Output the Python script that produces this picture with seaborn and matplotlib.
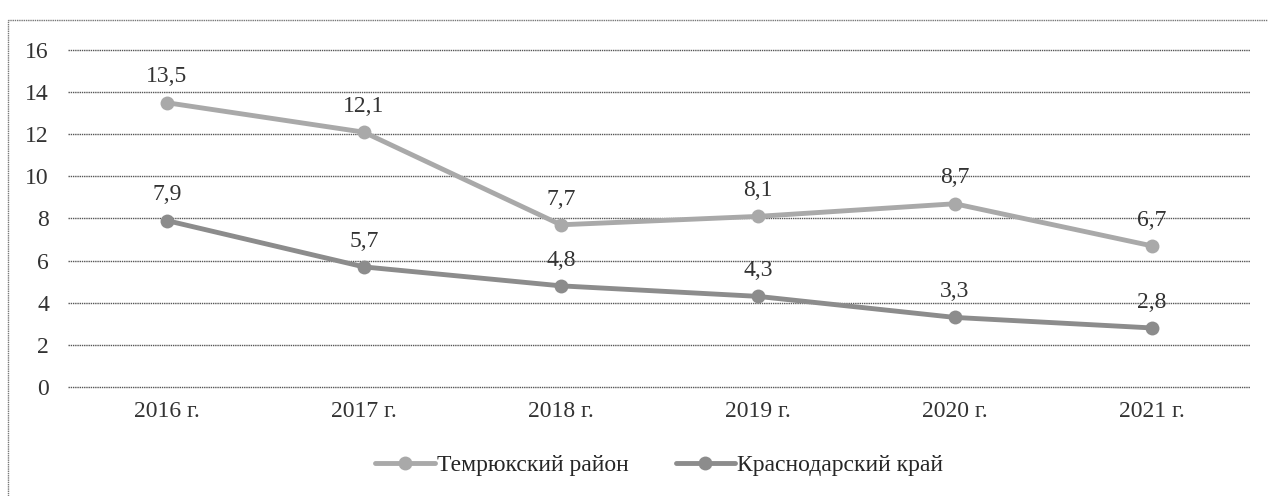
import matplotlib
matplotlib.use("Agg")
import matplotlib.pyplot as plt
import seaborn as sns
import pandas as pd
from matplotlib.patches import Rectangle

years = ["2016 г.", "2017 г.", "2018 г.", "2019 г.", "2020 г.", "2021 г."]
temryuk = [13.5, 12.1, 7.7, 8.1, 8.7, 6.7]
krasnodar = [7.9, 5.7, 4.8, 4.3, 3.3, 2.8]
series_names = ["Темрюкский район", "Краснодарский край"]
yticks = [0, 2, 4, 6, 8, 10, 12, 14, 16]

df = pd.DataFrame({
    "year": years * 2,
    "x": list(range(len(years))) * 2,
    "value": temryuk + krasnodar,
    "series": [series_names[0]] * len(years) + [series_names[1]] * len(years),
})

sns.set_theme(style="white")
plt.rcParams['font.family'] = ['Liberation Serif', 'DejaVu Serif']

fig = plt.figure(figsize=(12.68, 4.96), dpi=100)
ax = fig.add_axes([0.054, 0.22, 0.932, 0.679])

palette = {series_names[0]: "#a9a9a9", series_names[1]: "#8c8c8c"}
sns.lineplot(data=df, x="x", y="value", hue="series", palette=palette,
             marker="o", markersize=10, linewidth=3.5, markeredgewidth=0,
             ax=ax, legend=True)

ax.set_xlim(-0.5, len(years) - 0.5)
ax.set_ylim(0, 16)
ax.set_yticks(yticks)
ax.set_yticklabels([str(t) for t in yticks], fontsize=17, color="#333333")
ax.set_xticks(range(len(years)))
ax.set_xticklabels(years, fontsize=17, color="#333333")
ax.tick_params(axis="y", length=0, pad=14)
ax.tick_params(axis="x", length=0, pad=10)
ax.set_xlabel("")
ax.set_ylabel("")
for t in yticks:
    ax.axhline(t, color="#555555", linewidth=1.0, linestyle=(0, (1, 0.6)),
               zorder=0, clip_on=False)
for s in ax.spines.values():
    s.set_visible(False)

for vals in (temryuk, krasnodar):
    for i, v in enumerate(vals):
        ax.annotate(f"{v:.1f}".replace(".", ","), (i, v), xytext=(0, 11),
                    textcoords="offset points", ha="center", va="bottom",
                    fontsize=17, color="#333333")

handles, labels = ax.get_legend_handles_labels()
ax.legend(handles, labels, loc="center", bbox_to_anchor=(0.5, -0.234),
          ncol=2, frameon=False, fontsize=17, handlelength=2.5,
          columnspacing=2.0, handletextpad=0.1)

fig.patches.append(Rectangle((8 / 1268, -0.1), 1.2, 1 - 20 / 496 + 0.1,
                             transform=fig.transFigure, fill=False,
                             edgecolor="#777777", linewidth=1.0,
                             linestyle=(0, (1, 0.6))))

fig.savefig("out.png", dpi=100)
